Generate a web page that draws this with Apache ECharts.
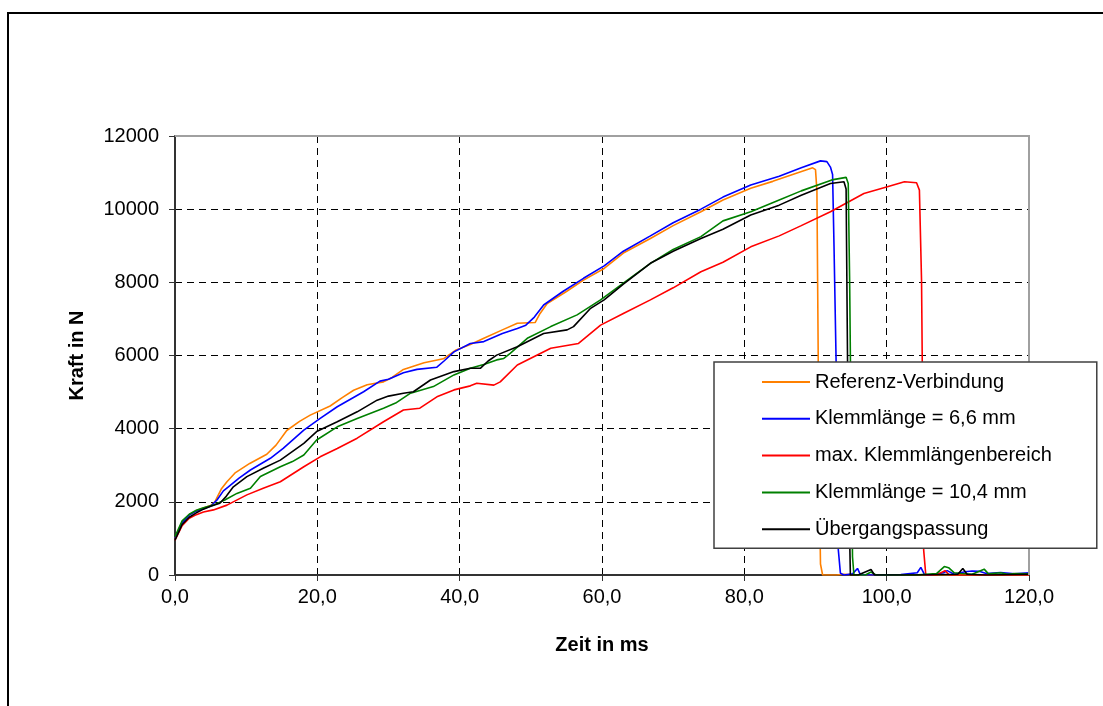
<!DOCTYPE html>
<html>
<head>
<meta charset="utf-8">
<script src="https://cdn.jsdelivr.net/npm/echarts@6/dist/echarts.min.js"></script>
<style>
  html, body { margin: 0; padding: 0; background: #fff; }
  #chart { width: 1103px; height: 706px; }
</style>
</head>
<body>
<div id="chart"></div>
<script>
// Zeit in ms, Kraft in N
const seriesNames = ['Referenz-Verbindung', 'Klemmlänge = 6,6 mm', 'max. Klemmlängenbereich', 'Klemmlänge = 10,4 mm', 'Übergangspassung'];
const seriesColors = ['#ff8000', '#0000ff', '#ff0000', '#008000', '#000000'];

const xTicks = [0, 20, 40, 60, 80, 100, 120];
const xTickLabels = ['0,0', '20,0', '40,0', '60,0', '80,0', '100,0', '120,0'];
const yTicks = [0, 2000, 4000, 6000, 8000, 10000, 12000];

const referenz = [[0,1000],[1,1450],[2,1650],[3,1760],[4,1830],[5,1900],[5.6,2000],[6.5,2350],[7.3,2550],[8.5,2800],[10.5,3050],[12.9,3300],[14.2,3550],[15.7,3950],[17.5,4200],[19,4370],[21.8,4620],[23.5,4850],[25.1,5050],[27,5200],[29.3,5280],[30.5,5400],[32.1,5620],[35,5800],[37.7,5910],[39.5,6150],[41.5,6300],[43.4,6470],[46,6700],[48.1,6880],[50.6,6900],[51.3,7150],[52.3,7420],[55,7750],[57.4,8060],[60.3,8380],[63,8800],[66.8,9200],[70,9550],[73.9,9930],[77,10250],[80.9,10570],[84,10760],[87,10960],[89.6,11130],[90.0,11080],[90.2,10500],[90.5,3000],[90.7,300],[91,0],[93,0],[94,20],[96,0],[120,10]];

const klemm66 = [[0,1000],[1,1430],[2,1640],[3,1750],[4,1820],[5,1880],[5.9,2050],[6.8,2300],[7.5,2410],[9,2650],[10.6,2870],[13.4,3190],[15.2,3460],[18.1,3960],[20.4,4280],[22.8,4600],[26.5,5010],[28.8,5300],[30,5350],[32.1,5530],[34,5620],[36.8,5680],[37.8,5850],[39.2,6100],[41.5,6330],[43.4,6380],[46,6600],[48.1,6740],[49.3,6830],[50.5,7050],[51.8,7380],[54.5,7750],[57.4,8110],[60.3,8450],[63,8850],[66.8,9270],[70,9630],[73.9,10000],[77,10330],[80.9,10660],[84.9,10900],[88,11130],[90.7,11320],[91.6,11300],[92.1,11150],[92.4,10950],[92.6,9000],[92.9,5800],[93.2,700],[93.5,50],[94,0],[95.2,30],[95.9,180],[96.3,10],[98,0],[102,10],[104.3,60],[104.8,210],[105.3,20],[106,0],[108,60],[108.5,120],[109.5,20],[111,90],[112,110],[113,100],[114,40],[116,70],[118,30],[120,60]];

const maxBereich = [[0,950],[1,1350],[2,1550],[3,1650],[4,1720],[5.4,1780],[7.3,1910],[10.1,2190],[12.4,2370],[14.8,2550],[18.1,2960],[20.4,3230],[22.8,3460],[25.6,3740],[29.3,4190],[32.1,4510],[34.4,4560],[36.8,4870],[39.2,5060],[41.5,5170],[42.4,5240],[44.8,5190],[45.7,5280],[48.1,5740],[52.8,6200],[56.7,6330],[59.8,6830],[63,7150],[66.8,7520],[70,7850],[73.9,8290],[77,8550],[80.9,8970],[84.9,9270],[88,9550],[92.1,9930],[96.8,10430],[100.1,10610],[102.5,10750],[104.2,10720],[104.6,10520],[104.9,8060],[105.0,5880],[105.2,680],[105.5,0],[107,0],[108.2,120],[108.8,0],[120,0]];

const klemm104 = [[0,1050],[1,1480],[2,1660],[3,1770],[4,1840],[5,1890],[5.4,1910],[7,2050],[8.7,2230],[10.6,2370],[12,2690],[14.8,2960],[16.5,3100],[18.1,3280],[19.9,3690],[22.8,4050],[25.6,4280],[29.3,4560],[31,4700],[33.1,4970],[36.3,5150],[39.2,5470],[41.5,5650],[43.5,5760],[45.2,5880],[46.2,5920],[47.1,6060],[49.5,6470],[52.8,6790],[56.5,7110],[59.8,7520],[63,7980],[66.8,8520],[70,8900],[73.9,9250],[77,9680],[80.9,9930],[84.9,10250],[88,10500],[92.3,10800],[94.3,10870],[94.6,10700],[94.8,8000],[95.0,4000],[95.2,500],[95.4,0],[97,0],[97.8,80],[98.5,0],[104,0],[107,40],[108.1,230],[108.7,200],[109.5,60],[110.5,40],[112,20],[113.7,160],[114.3,30],[116,60],[117,20],[118,40],[120,30]];

const uebergang = [[0,950],[1,1380],[2,1580],[3,1700],[4,1800],[5,1880],[6.3,1960],[7.2,2150],[8.2,2410],[10.1,2690],[12.4,2920],[14.8,3140],[18.1,3600],[19.9,3920],[22.8,4190],[25.6,4460],[28.4,4780],[30,4890],[32.1,4970],[33.5,5010],[35.9,5330],[39.2,5560],[41.5,5650],[42.9,5650],[44,5850],[45.2,6010],[48.1,6240],[51.8,6600],[55.1,6700],[56,6790],[58.4,7290],[60.3,7520],[63,7950],[66.8,8520],[70,8850],[73.9,9200],[77,9450],[80.9,9840],[84.9,10110],[88,10380],[92.1,10700],[94.0,10750],[94.3,10550],[94.5,5900],[94.7,2000],[94.9,0],[96,0],[97.8,150],[98.3,0],[104,0],[110,20],[110.7,180],[111.3,20],[114,0],[120,20]];

const seriesData = [referenz, klemm66, maxBereich, klemm104, uebergang];

const chart = echarts.init(document.getElementById('chart'), null, { renderer: 'canvas' });

const font = 'Liberation Sans, Arial, sans-serif';

const option = {
  animation: false,
  backgroundColor: '#fff',
  textStyle: { fontFamily: font },
  graphic: [
    {
      type: 'rect',
      shape: { x: 8, y: 13, width: 1200, height: 800 },
      style: { fill: 'none', stroke: '#000', lineWidth: 2 },
      silent: true
    },
    {
      // top and right edge of the plot area
      type: 'polyline',
      z: 3,
      shape: { points: [[175, 136], [1029, 136], [1029, 575]] },
      style: { fill: 'none', stroke: '#a0a0a0', lineWidth: 2 },
      silent: true
    }
  ],
  grid: {
    left: 175,
    top: 136,
    right: 74,
    bottom: 131,
    show: false
  },
  legend: {
    orient: 'vertical',
    left: 714,
    top: 362,
    padding: [10, 45, 9, 48],
    icon: 'rect',
    itemWidth: 48,
    itemHeight: 2,
    itemGap: 16.8,
    backgroundColor: '#fff',
    borderColor: '#404040',
    borderWidth: 1.5,
    textStyle: { fontSize: 20, lineHeight: 20, color: '#000', fontFamily: font },
    data: seriesNames
  },
  xAxis: {
    type: 'value',
    min: 0,
    max: 120,
    interval: 20,
    name: 'Zeit in ms',
    nameLocation: 'middle',
    nameGap: 60,
    nameTextStyle: { fontSize: 20, fontWeight: 'bold', color: '#000' },
    axisLine: { show: true, lineStyle: { color: '#333', width: 2 } },
    axisTick: { show: true, inside: false, length: 6, lineStyle: { color: '#333' } },
    axisLabel: {
      fontSize: 20, color: '#000', margin: 12,
      formatter: function (v) { return xTickLabels[xTicks.indexOf(v)]; }
    },
    splitLine: { show: true, lineStyle: { color: '#000', type: [7, 5], width: 1 } }
  },
  yAxis: {
    type: 'value',
    min: 0,
    max: 12000,
    interval: 2000,
    name: 'Kraft in N',
    nameLocation: 'middle',
    nameGap: 88,
    nameTextStyle: { fontSize: 20, fontWeight: 'bold', color: '#000' },
    axisLine: { show: true, lineStyle: { color: '#333', width: 2 } },
    axisTick: { show: true, inside: false, length: 6, lineStyle: { color: '#333' } },
    axisLabel: {
      fontSize: 20, color: '#000', margin: 16,
      formatter: function (v) { return yTicks.indexOf(v) >= 0 ? String(v) : ''; }
    },
    splitLine: { show: true, lineStyle: { color: '#000', type: [7, 5], width: 1 } }
  },
  series: seriesNames.map(function (name, i) {
    return {
      name: name,
      type: 'line',
      symbol: 'none',
      data: seriesData[i],
      color: seriesColors[i],
      lineStyle: { color: seriesColors[i], width: 1.6 },
      z: 2
    };
  })
};

chart.setOption(option);
</script>
</body>
</html>
